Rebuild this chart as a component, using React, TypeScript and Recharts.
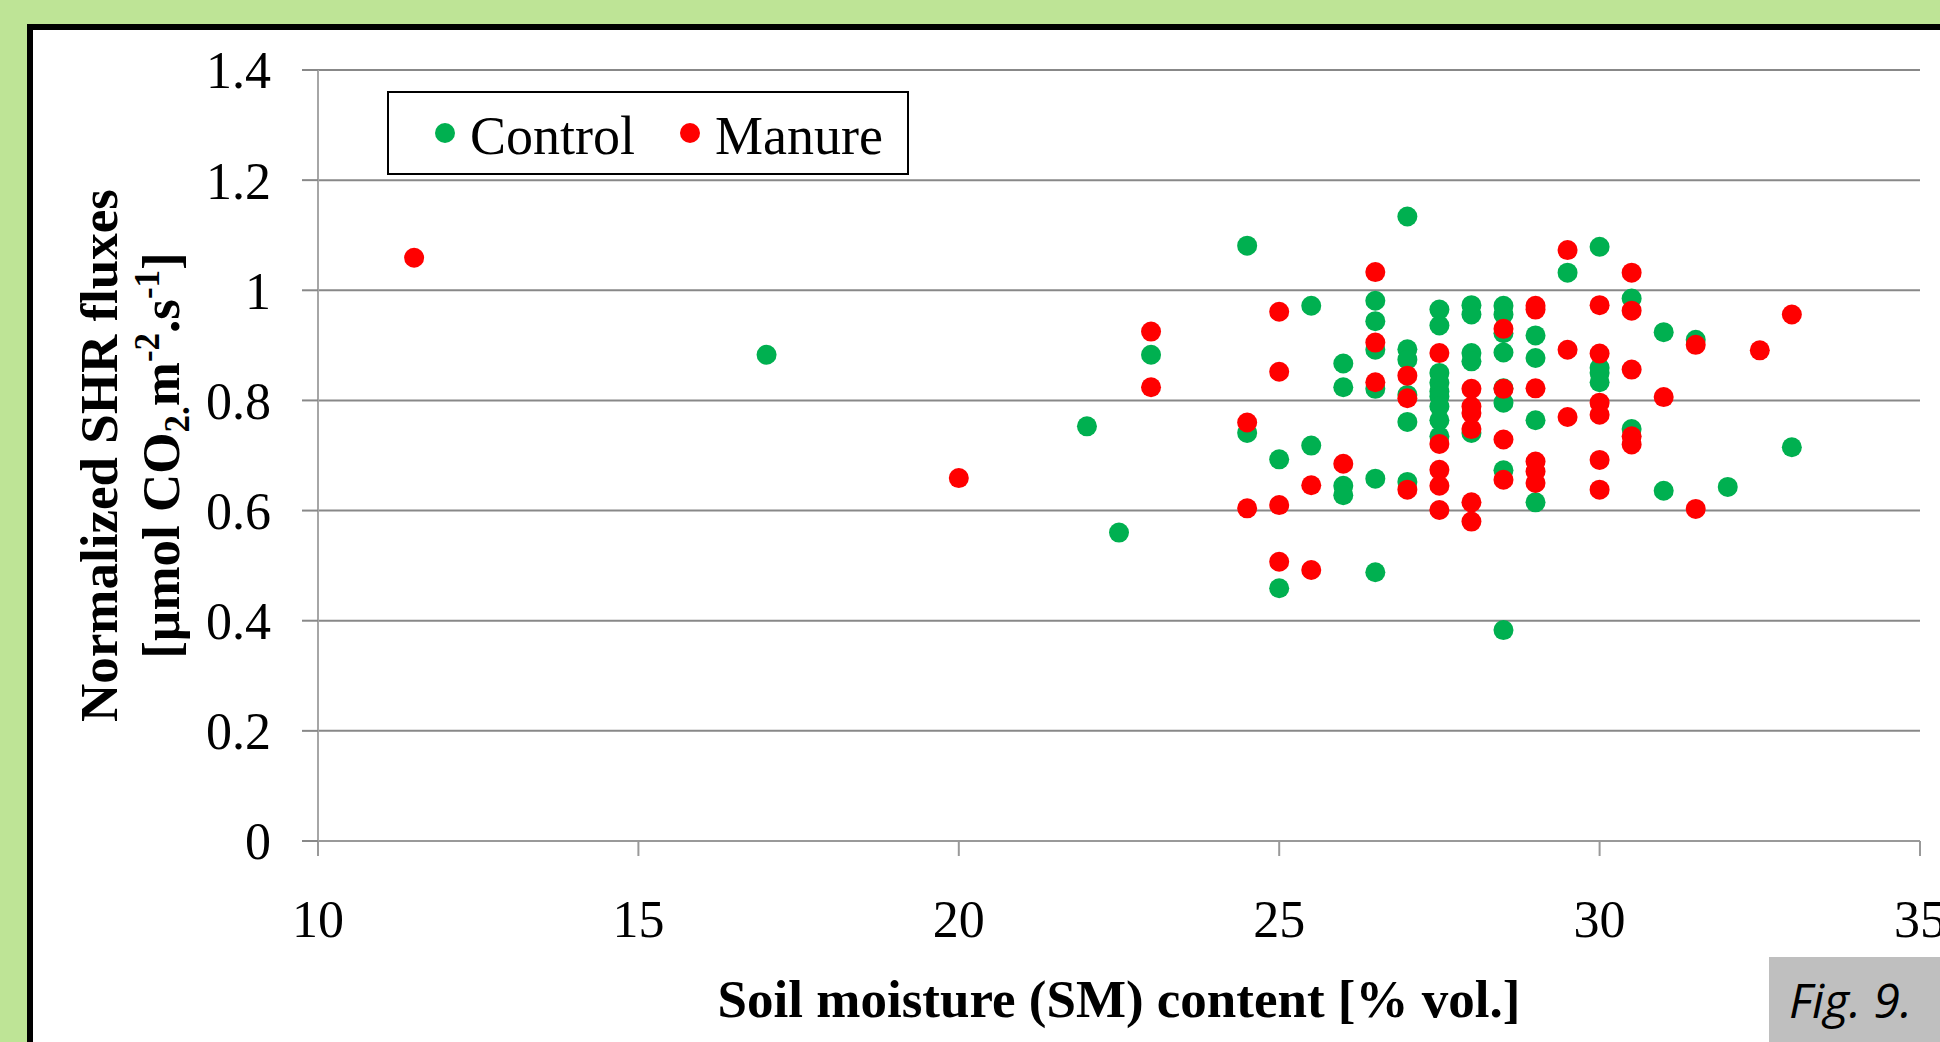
import React from "react";
import { ScatterChart, Scatter, XAxis, YAxis, CartesianGrid, Legend, Label } from "recharts";

const xTicks = [10, 15, 20, 25, 30, 35];
const yTicks = [0, 0.2, 0.4, 0.6, 0.8, 1, 1.2, 1.4];

// soil moisture [% vol.] and normalized flux, one entry per dot
const controlX = [
  17, 22, 22.5, 23, 24.5, 24.5, 25, 25, 25.5, 25.5, 26, 26, 26, 26,
  26.5, 26.5, 26.5, 26.5, 26.5, 26.5, 27, 27, 27, 27, 27, 27,
  27.5, 27.5, 27.5, 27.5, 27.5, 27.5, 27.5, 27.5, 27.5,
  28, 28, 28, 28, 28, 28.5, 28.5, 28.5, 28.5, 28.5, 28.5, 28.5, 28.5,
  29, 29, 29, 29, 29.5, 30, 30, 30, 30, 30.5, 30.5, 31, 31, 31.5, 32, 33,
];
const controlY = [
  0.883, 0.753, 0.56, 0.883, 1.081, 0.741, 0.693, 0.459, 0.972, 0.718, 0.867, 0.824, 0.645, 0.628,
  0.981, 0.944, 0.892, 0.821, 0.658, 0.488, 1.134, 0.893, 0.874, 0.81, 0.761, 0.652,
  0.965, 0.936, 0.85, 0.832, 0.816, 0.807, 0.789, 0.764, 0.735,
  0.973, 0.956, 0.886, 0.871, 0.741, 0.972, 0.956, 0.922, 0.887, 0.822, 0.796, 0.673, 0.383,
  0.918, 0.877, 0.764, 0.615, 1.032, 1.079, 0.859, 0.85, 0.833, 0.985, 0.748, 0.924, 0.636, 0.91, 0.643, 0.715,
];

const manureX = [
  11.5, 20, 23, 23, 24.5, 24.5, 25, 25, 25, 25, 25.5, 25.5, 26,
  26.5, 26.5, 26.5, 27, 27, 27, 27.5, 27.5, 27.5, 27.5, 27.5,
  28, 28, 28, 28, 28, 28, 28.5, 28.5, 28.5, 28.5,
  29, 29, 29, 29, 29, 29, 29.5, 29.5, 29.5, 30, 30, 30, 30, 30, 30,
  30.5, 30.5, 30.5, 30.5, 30.5, 31, 31.5, 31.5, 32.5, 33,
];
const manureY = [
  1.059, 0.659, 0.925, 0.824, 0.76, 0.604, 0.961, 0.852, 0.61, 0.507, 0.646, 0.492, 0.685,
  1.033, 0.905, 0.833, 0.845, 0.804, 0.638, 0.886, 0.721, 0.674, 0.645, 0.601,
  0.821, 0.789, 0.777, 0.748, 0.615, 0.58, 0.93, 0.821, 0.729, 0.656,
  0.972, 0.965, 0.822, 0.689, 0.671, 0.65, 1.073, 0.892, 0.77, 0.973, 0.885, 0.796, 0.774, 0.692, 0.638,
  1.032, 0.963, 0.856, 0.735, 0.72, 0.806, 0.901, 0.603, 0.891, 0.956,
];

const controlData = controlX.map((x, i) => ({ x, y: controlY[i] }));
const manureData = manureX.map((x, i) => ({ x, y: manureY[i] }));

const GREEN = "#00B050";
const RED = "#FF0000";
const SERIF = "'Liberation Serif', 'Times New Roman', serif";

const Dot = (props: any) => <circle cx={props.cx} cy={props.cy} r={10} fill={props.fill} />;

const renderLegend = (props: any) => (
  <div
    style={{
      width: 522,
      height: 84,
      boxSizing: "border-box",
      border: "2px solid #000",
      background: "#fff",
      display: "flex",
      alignItems: "center",
      paddingLeft: 46,
      paddingTop: 6,
      fontFamily: SERIF,
      fontSize: 54,
      color: "#000",
    }}
  >
    {(props.payload || []).map((entry: any) => (
      <div key={entry.value} style={{ display: "flex", alignItems: "center", marginRight: 45 }}>
        <span
          style={{
            width: 20,
            height: 20,
            borderRadius: 10,
            background: entry.color,
            marginRight: 15,
            marginTop: -6,
          }}
        />
        <span style={{ lineHeight: "60px" }}>{entry.value}</span>
      </div>
    ))}
  </div>
);

const YTitle = (props: any) => {
  const vb = props.viewBox || { x: 0, y: 70, width: 318, height: 771 };
  const cy = vb.y + vb.height / 2;
  const x1 = 117;
  const x2 = 179;
  return (
    <g fontFamily={SERIF} fontWeight="bold" fontSize={53} fill="#000">
      <text x={x1} y={cy} transform={`rotate(-90 ${x1} ${cy})`} textAnchor="middle">
        Normalized SHR fluxes
      </text>
      <text x={x2} y={cy} transform={`rotate(-90 ${x2} ${cy})`} textAnchor="middle">
        [µmol CO
        <tspan fontSize={35} dy={10}>2.</tspan>
        <tspan fontSize={53} dy={-10}>m</tspan>
        <tspan fontSize={35} dy={-20}>-2</tspan>
        <tspan fontSize={53} dy={20}>.s</tspan>
        <tspan fontSize={35} dy={-20}>-1</tspan>
        <tspan fontSize={53} dy={20}>]</tspan>
      </text>
    </g>
  );
};

const XTitle = (props: any) => {
  const vb = props.viewBox || { x: 318, y: 841, width: 1602, height: 201 };
  return (
    <text
      x={vb.x + vb.width / 2}
      y={1017}
      textAnchor="middle"
      fontFamily={SERIF}
      fontWeight="bold"
      fontSize={53}
      fill="#000"
    >
      Soil moisture (SM) content [% vol.]
    </text>
  );
};

export default function App() {
  return (
    <div
      style={{
        position: "absolute",
        left: 0,
        top: 0,
        width: 1940,
        height: 1042,
        background: "#BEE496",
        overflow: "hidden",
      }}
    >
      <div
        style={{
          position: "absolute",
          left: 27,
          top: 24,
          width: 1960,
          height: 1060,
          border: "6px solid #000",
          background: "#fff",
        }}
      />
      <div style={{ position: "absolute", left: 0, top: 0 }}>
        <ScatterChart width={1940} height={1042} margin={{ top: 70, right: 20, bottom: 0, left: 0 }}>
          <CartesianGrid vertical={false} stroke="#888888" strokeWidth={2} />
          <XAxis
            type="number"
            dataKey="x"
            domain={[10, 35]}
            ticks={xTicks}
            interval={0}
            height={201}
            tickSize={15}
            tickMargin={44}
            axisLine={{ stroke: "#999999", strokeWidth: 2 }}
            tickLine={{ stroke: "#999999", strokeWidth: 2 }}
            tick={{ fill: "#000", fontSize: 52, fontFamily: SERIF }}
          >
            <Label content={XTitle} />
          </XAxis>
          <YAxis
            type="number"
            dataKey="y"
            domain={[0, 1.4]}
            ticks={yTicks}
            interval={0}
            width={318}
            tickSize={16}
            tickMargin={31}
            axisLine={{ stroke: "#A6A6A6", strokeWidth: 2 }}
            tickLine={{ stroke: "#888888", strokeWidth: 2 }}
            tick={{ fill: "#000", fontSize: 52, fontFamily: SERIF }}
          >
            <Label content={YTitle} />
          </YAxis>
          <Legend
            layout="horizontal"
            verticalAlign="middle"
            align="center"
            wrapperStyle={{ left: 387, top: 91, width: 522, height: 84 }}
            content={renderLegend}
          />
          <Scatter name="Control" data={controlData} fill={GREEN} shape={Dot} isAnimationActive={false} />
          <Scatter name="Manure" data={manureData} fill={RED} shape={Dot} isAnimationActive={false} />
        </ScatterChart>
      </div>
      <div
        style={{
          position: "absolute",
          left: 1769,
          top: 957,
          width: 180,
          height: 100,
          background: "#BFBFBF",
        }}
      >
        <svg width={180} height={100}>
          <text x={20} y={61} fontFamily="'Open Sans', sans-serif" fontStyle="italic" fontSize={48} fill="#000">
            Fig. 9.
          </text>
        </svg>
      </div>
    </div>
  );
}
